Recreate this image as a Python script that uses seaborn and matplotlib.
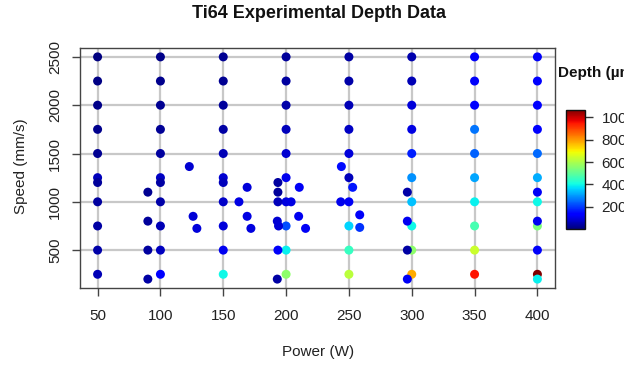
import matplotlib
matplotlib.use("Agg")
import numpy as np
import pandas as pd
import matplotlib.pyplot as plt
import seaborn as sns
from matplotlib.colors import Normalize
from matplotlib.cm import ScalarMappable

# ---- data ----
grid_speeds = [2500, 2250, 2000, 1750, 1500, 1250, 1200, 1000, 750, 500, 250]
grid_speeds2 = [2500, 2250, 2000, 1750, 1500, 1250, 1000, 750, 500, 250]
grid_speeds4 = [2500, 2250, 2000, 1750, 1500, 1250, 1000, 750, 250]

depth_50 = [5, 12, 15, 18, 25, 60, 30, 35, 40, 45, 55]
depth_100 = [15, 18, 22, 28, 35, 70, 40, 45, 55, 65, 130]
depth_150 = [22, 25, 30, 40, 55, 80, 60, 75, 90, 110, 400]
depth_200 = [30, 35, 45, 60, 80, 105, 95, 220, 390, 560]
depth_250 = [40, 45, 55, 70, 90, 60, 115, 360, 450, 620]
depth_300 = [50, 55, 90, 100, 170, 290, 340, 400, 560, 780]
depth_350 = [120, 120, 125, 260, 240, 310, 390, 470, 640, 950]
depth_400 = [120, 125, 125, 130, 250, 320, 400, 540, 1070]

extra_power = [90, 90, 90, 90,
               123, 126, 129,
               162.5, 169, 169, 172,
               193.5, 193.5, 193.5, 193, 194, 193.5, 193,
               204, 210.5, 210, 215.5,
               244, 243.5, 253, 258.6, 258.6,
               296.5, 296.5, 296.5, 296.5,
               400, 400, 400, 400]
extra_speed = [1100, 800, 500, 200,
               1365, 850, 725,
               1000, 1150, 850, 725,
               1200, 1100, 1000, 800, 750, 500, 200,
               1000, 1150, 850, 725,
               1365, 1000, 1150, 865, 735,
               1100, 800, 500, 200,
               1100, 800, 500, 200]
extra_depth = [25, 30, 35, 40,
               80, 85, 90,
               100, 90, 100, 95,
               35, 30, 60, 80, 85, 120, 40,
               100, 115, 110, 115,
               150, 105, 160, 120, 190,
               45, 110, 40, 115,
               115, 110, 120, 390]

x_ticks = [50, 100, 150, 200, 250, 300, 350, 400]
y_ticks = [500, 1000, 1500, 2000, 2500]
cbar_ticks = [200, 400, 600, 800, 1000]

power = ([50] * 11 + [100] * 11 + [150] * 11 + [200] * 10 + [250] * 10
         + [300] * 10 + [350] * 10 + [400] * 9 + extra_power)
speed = (grid_speeds * 3 + grid_speeds2 * 4 + grid_speeds4 + extra_speed)
depth = (depth_50 + depth_100 + depth_150 + depth_200 + depth_250
         + depth_300 + depth_350 + depth_400 + extra_depth)

df = pd.DataFrame({"power": power, "speed": speed, "depth": depth})

# ---- figure ----
sns.set_theme(style="white")
plt.rcParams['font.family'] = ['Liberation Sans', 'DejaVu Sans']

fig = plt.figure(figsize=(6.24, 3.67), dpi=100)
ax = fig.add_axes([80 / 624, 1 - 288 / 367, 475 / 624, 240 / 367])

jet = matplotlib.colormaps["jet"]
vmin, vmax = min(depth), max(depth)
sns.scatterplot(data=df, x="power", y="speed", hue="depth", palette=jet,
                hue_norm=(vmin, vmax), s=42, linewidth=0, legend=False,
                ax=ax, zorder=3)

ax.set_xlim(36, 414)
ax.set_ylim(108, 2592)
ax.set_xticks(x_ticks)
ax.set_yticks(y_ticks)
ax.set_axisbelow(True)
ax.grid(True, color="#c8c8c8", linewidth=1.6)
for s in ax.spines.values():
    s.set_color("#444444")
    s.set_linewidth(1.0)
ax.tick_params(axis="both", direction="out", length=6, width=1,
               color="#444444", labelsize=11, labelcolor="#222222",
               bottom=True, left=True)
ax.tick_params(axis="x", pad=9)
ax.tick_params(axis="y", pad=7)
for lab in ax.get_yticklabels():
    lab.set_rotation(90)
    lab.set_va("center")
ax.set_xlabel("")
ax.set_ylabel("")

fig.text(319 / 624, 1 - 13 / 367, "Ti64 Experimental Depth Data",
         ha="center", va="center", fontsize=13, fontweight="bold",
         color="#111111")
fig.text(318 / 624, 1 - 352 / 367, "Power (W)", ha="center", va="center",
         fontsize=11, color="#222222")
fig.text(21 / 624, 1 - 166 / 367, "Speed (mm/s)", ha="center", va="center",
         fontsize=11, color="#222222", rotation=90)

# ---- colorbar ----
cax = fig.add_axes([566 / 624, 1 - 228.5 / 367, 19 / 624, 119 / 367])
sm = ScalarMappable(norm=Normalize(vmin=vmin, vmax=vmax), cmap=jet)
cb = fig.colorbar(sm, cax=cax, ticks=cbar_ticks)
cb.outline.set_edgecolor("#111111")
cb.outline.set_linewidth(1.0)
cax.tick_params(direction="out", length=6, width=1, color="#333333",
                labelsize=11, labelcolor="#222222", pad=6)
fig.text(558 / 624, 1 - 73 / 367, "Depth (µm)", ha="left", va="center",
         fontsize=11, fontweight="bold", color="#111111")

fig.savefig("out.png", dpi=100)
